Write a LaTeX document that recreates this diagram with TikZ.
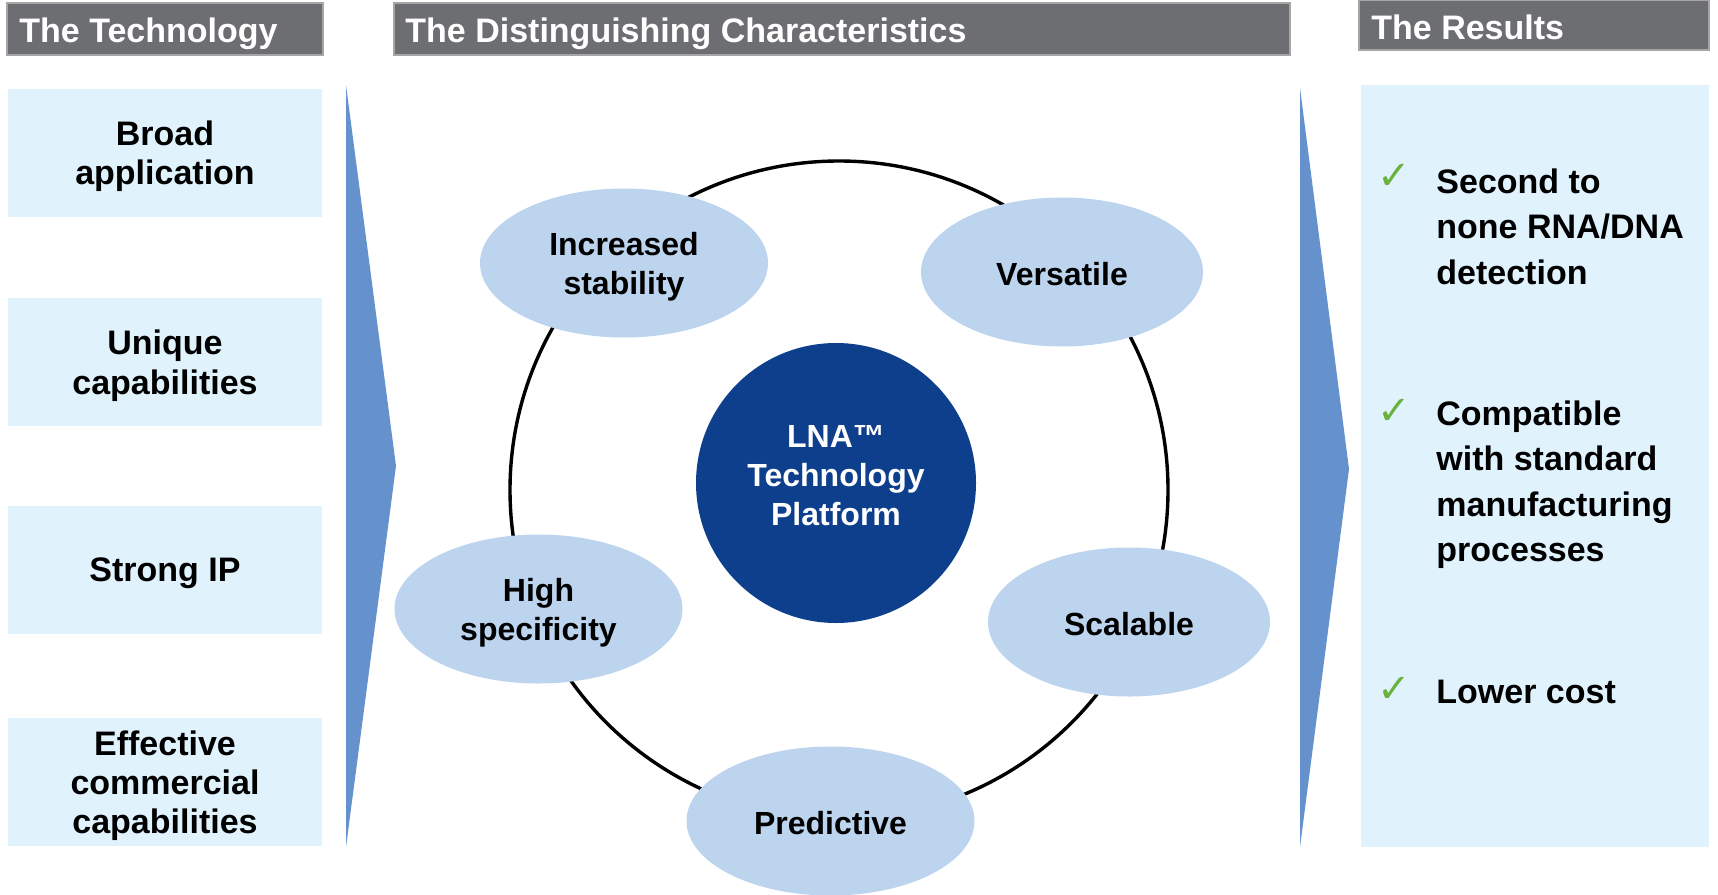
\documentclass[tikz,border=0pt]{standalone}
\usepackage{fontspec}
\setmainfont{Liberation Sans}
\newfontfamily\symfont{DejaVu Sans}
\usetikzlibrary{shapes.geometric,calc}
\definecolor{hdrgrey}{HTML}{6D6E72}
\definecolor{hdrline}{HTML}{A6A6A6}
\definecolor{paleblue}{HTML}{E0F2FC}
\definecolor{arrowblue}{HTML}{6592CC}
\definecolor{ellblue}{HTML}{BDD4EE}
\definecolor{darkblue}{HTML}{0D3F8C}
\definecolor{checkgreen}{HTML}{6AB23E}
\tikzset{
  hdrbox/.style={draw=hdrline, line width=0.6pt, fill=hdrgrey, inner sep=0pt},
  hdrtext/.style={text=white, font=\bfseries\fontsize{17}{20}\selectfont, inner sep=0pt, anchor=west, yshift=-2.6pt},
  techbox/.style={fill=paleblue, inner sep=0pt, minimum width=157pt, minimum height=64pt},
  techtext/.style={inner sep=0pt, align=center, font=\bfseries\fontsize{17}{19.7}\selectfont, yshift=-1.8pt},
  charell/.style={ellipse, fill=ellblue, inner sep=0pt, minimum width=144pt, minimum height=74.5pt},
  elltext/.style={inner sep=0pt, align=center, font=\bfseries\fontsize{16}{19.7}\selectfont, yshift=-1.8pt},
  restext/.style={anchor=base west, inner sep=0pt, align=left, font=\bfseries\fontsize{17}{22.75}\selectfont},
  checkmk/.style={text=checkgreen, inner sep=0pt, font=\symfont\fontsize{20}{20}\selectfont}
}
\begin{document}
\begin{tikzpicture}[x=0.5pt,y=-0.5pt]
\useasboundingbox (0,0) rectangle (1718,894);
% headers
\node[hdrbox, minimum width=158pt, minimum height=26pt] (h1) at (165,29) {};
\node[hdrtext] (h1t) at (19,29) {The Technology};
\node[hdrbox, minimum width=448pt, minimum height=26pt] (h2) at (842,29) {};
\node[hdrtext] (h2t) at (405,29) {The Distinguishing Characteristics};
\node[hdrbox, minimum width=175pt, minimum height=25pt] (h3) at (1534,25) {};
\node[hdrtext, yshift=1.3pt] (h3t) at (1371,25) {The Results};
% left boxes
\node[techbox] (t1) at (165,152.5) {};
\node[techtext] (t1t) at (t1) {Broad\\application};
\node[techbox] (t2) at (165,362) {};
\node[techtext] (t2t) at (t2) {Unique\\capabilities};
\node[techbox] (t3) at (165,570) {};
\node[techtext] (t3t) at (t3) {Strong IP};
\node[techbox] (t4) at (165,782) {};
\node[techtext] (t4t) at (t4) {Effective\\commercial\\capabilities};
% arrows
\fill[arrowblue] (346,85) -- (396,466) -- (346,847) -- cycle;
\fill[arrowblue] (1300,88) -- (1349,469) -- (1300,847) -- cycle;
% results box
\fill[paleblue] (1361,85) rectangle (1709,847);
\node[checkmk] (c1) at (1394,177) {✓};
\node[checkmk] (c2) at (1394,412) {✓};
\node[checkmk] (c3) at (1394,690) {✓};
\node[restext] (r1) at (1436,284) {Second to\\none RNA/DNA\\detection};
\node[restext] (r2) at (1436,561.5) {Compatible\\with standard\\manufacturing\\processes};
\node[restext] (r3) at (1436,703) {Lower cost};
% ring
\draw[line width=1.7pt] (839,490) circle[radius=164.5pt];
% center
\node[circle, fill=darkblue, minimum size=140pt, inner sep=0pt] (core) at (836,483) {};
\node[text=white, align=center, inner sep=0pt, font=\bfseries\fontsize{16}{19.5}\selectfont] (coret) at (836,476) {LNA™\\Technology\\Platform};
% ellipses
\node[charell] (e1) at (624,263) {};
\node[elltext] (e1t) at (e1) {Increased\\stability};
\node[charell, minimum width=141pt] (e2) at (1062,272) {};
\node[elltext, yshift=1pt] (e2t) at (e2) {Versatile};
\node[charell] (e3) at (538.5,609) {};
\node[elltext] (e3t) at (e3) {High\\specificity};
\node[charell, minimum width=141pt] (e4) at (1129,622) {};
\node[elltext, yshift=1pt] (e4t) at (e4) {Scalable};
\node[charell] (e5) at (830.5,821) {};
\node[elltext, yshift=1pt] (e5t) at (e5) {Predictive};
\end{tikzpicture}
\end{document}
